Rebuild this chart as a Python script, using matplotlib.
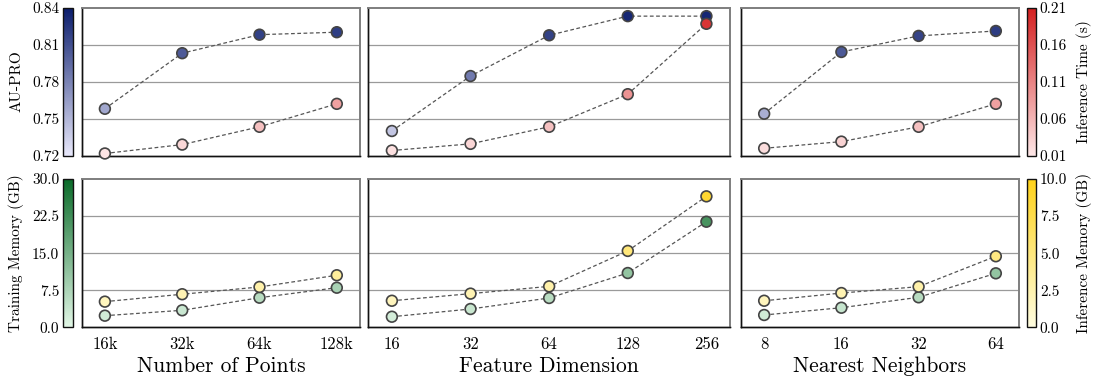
import matplotlib
matplotlib.use("Agg")
import matplotlib.pyplot as plt
import numpy as np
from matplotlib.colors import LinearSegmentedColormap, Normalize
from matplotlib.cm import ScalarMappable

plt.rcParams["font.family"] = "serif"
plt.rcParams["font.serif"] = ["cmr10", "DejaVu Serif"]
plt.rcParams["axes.formatter.use_mathtext"] = True
plt.rcParams["mathtext.fontset"] = "cm"

# ---- data -------------------------------------------------------------
points_labels = ["16k", "32k", "64k", "128k"]
points_aupro = [0.758, 0.803, 0.818, 0.820]
points_time = [0.013, 0.025, 0.049, 0.080]
points_train_mem = [2.35, 3.44, 5.99, 8.01]
points_infer_mem = [1.73, 2.23, 2.72, 3.51]

dim_labels = ["16", "32", "64", "128", "256"]
dim_aupro = [0.740, 0.7845, 0.8175, 0.833, 0.833]
dim_time = [0.017, 0.026, 0.049, 0.093, 0.188]
dim_train_mem = [2.14, 3.70, 5.93, 10.98, 21.36]
dim_infer_mem = [1.79, 2.27, 2.76, 5.15, 8.83]

nn_labels = ["8", "16", "32", "64"]
nn_aupro = [0.754, 0.804, 0.817, 0.821]
nn_time = [0.020, 0.029, 0.049, 0.080]
nn_train_mem = [2.49, 3.96, 6.07, 10.92]
nn_infer_mem = [1.79, 2.31, 2.74, 4.79]

xlabels = ["Number of Points", "Feature Dimension", "Nearest Neighbors"]

aupro_ticks = [0.72, 0.75, 0.78, 0.81, 0.84]
time_ticks = [0.01, 0.06, 0.11, 0.16, 0.21]
train_ticks = [0.0, 7.5, 15.0, 22.5, 30.0]
infer_ticks = [0.0, 2.5, 5.0, 7.5, 10.0]

groups = [
    (points_labels, points_aupro, points_time, points_train_mem, points_infer_mem),
    (dim_labels, dim_aupro, dim_time, dim_train_mem, dim_infer_mem),
    (nn_labels, nn_aupro, nn_time, nn_train_mem, nn_infer_mem),
]

# ---- colour maps --------------------------------------------------------
cmap_blue = LinearSegmentedColormap.from_list("aupro", ["#e8e8fb", "#0a1c6c"])
cmap_red = LinearSegmentedColormap.from_list("time", ["#fde6e6", "#d41f1f"])
cmap_green = LinearSegmentedColormap.from_list("train", ["#e2f7e6", "#0a6b29"])
cmap_yellow = LinearSegmentedColormap.from_list("infer", ["#fffde0", "#ffd21a"])

norm_blue = Normalize(aupro_ticks[0], aupro_ticks[-1])
norm_red = Normalize(time_ticks[0], time_ticks[-1])
norm_green = Normalize(train_ticks[0], train_ticks[-1])
norm_yellow = Normalize(infer_ticks[0], infer_ticks[-1])

W, H = 1106, 383
fig = plt.figure(figsize=(W / 100, H / 100), dpi=100)


def px_axes(x0, y0, x1, y1):
    return fig.add_axes([x0 / W, 1 - y1 / H, (x1 - x0) / W, (y1 - y0) / H])


panel_x = [(81.7, 360.0), (368.3, 730.0), (741.0, 1019.0)]
row_y = [(7.5, 155.7), (179.0, 327.3)]

line_kw = dict(color="#555555", lw=0.9, dashes=(3, 2), zorder=2)
mark_kw = dict(s=60, edgecolors="#444444", linewidths=1.2, zorder=3, clip_on=False)


def style_axes(ax):
    for side in ("top", "right"):
        ax.spines[side].set_color("#808080")
        ax.spines[side].set_linewidth(1.3)
    for side in ("bottom", "left"):
        ax.spines[side].set_color("#111111")
        ax.spines[side].set_linewidth(1.0)


def draw_pair(ax, xs, v1, v2, ticks1, ticks2, cm1, nm1, cm2, nm2):
    ax.set_ylim(ticks1[0], ticks1[-1])
    ax.set_yticks(ticks1[1:-1])
    ax.yaxis.grid(True, color="#9a9a9a", lw=0.9)
    ax.set_axisbelow(True)
    ax.tick_params(axis="y", length=0, labelleft=False)
    ax.plot(xs, v1, **line_kw)
    ax.scatter(xs, v1, c=v1, cmap=cm1, norm=nm1, **mark_kw)
    tw = ax.twinx()
    tw.set_ylim(ticks2[0], ticks2[-1])
    tw.set_yticks([])
    tw.plot(xs, v2, **line_kw)
    tw.scatter(xs, v2, c=v2, cmap=cm2, norm=nm2, **mark_kw)
    for t in (ax, tw):
        style_axes(t)
    return tw


for col, (labels, aupro, itime, tmem, imem) in enumerate(groups):
    xs = np.arange(len(labels))
    x0, x1 = panel_x[col]

    top = px_axes(x0, row_y[0][0], x1, row_y[0][1])
    top.set_xlim(-0.3, len(labels) - 1 + 0.3)
    top.set_xticks(xs)
    top.tick_params(axis="x", length=0, labelbottom=False)
    draw_pair(top, xs, aupro, itime, aupro_ticks, time_ticks,
              cmap_blue, norm_blue, cmap_red, norm_red)

    bot = px_axes(x0, row_y[1][0], x1, row_y[1][1])
    bot.set_xlim(-0.3, len(labels) - 1 + 0.3)
    bot.set_xticks(xs)
    bot.set_xticklabels(labels, fontsize=12)
    bot.tick_params(axis="x", length=0, pad=7)
    bot.set_xlabel(xlabels[col], fontsize=15.5, labelpad=3)
    draw_pair(bot, xs, tmem, imem, train_ticks, infer_ticks,
              cmap_green, norm_green, cmap_yellow, norm_yellow)


def colorbar(x0, x1, row, cmap, norm, ticks, label, side, fmt):
    cax = px_axes(x0, row_y[row][0], x1, row_y[row][1])
    cb = fig.colorbar(ScalarMappable(norm=norm, cmap=cmap), cax=cax)
    cb.set_ticks(ticks)
    cb.set_ticklabels([fmt.format(t) for t in ticks])
    cb.outline.set_edgecolor("#111111")
    cb.outline.set_linewidth(1.0)
    cax.yaxis.set_ticks_position(side)
    cax.yaxis.set_label_position(side)
    cax.tick_params(length=0, labelsize=11, pad=3)
    cax.set_ylabel(label, fontsize=11, labelpad=6)


colorbar(63.3, 72.7, 0, cmap_blue, norm_blue, aupro_ticks, "AU-PRO", "left", "{:.2f}")
colorbar(1026.7, 1035.7, 0, cmap_red, norm_red, time_ticks, "Inference Time (s)", "right", "{:.2f}")
colorbar(63.3, 72.7, 1, cmap_green, norm_green, train_ticks, "Training Memory (GB)", "left", "{:.1f}")
colorbar(1026.7, 1035.7, 1, cmap_yellow, norm_yellow, infer_ticks, "Inference Memory (GB)", "right", "{:.1f}")

fig.savefig("out.png", dpi=100)
